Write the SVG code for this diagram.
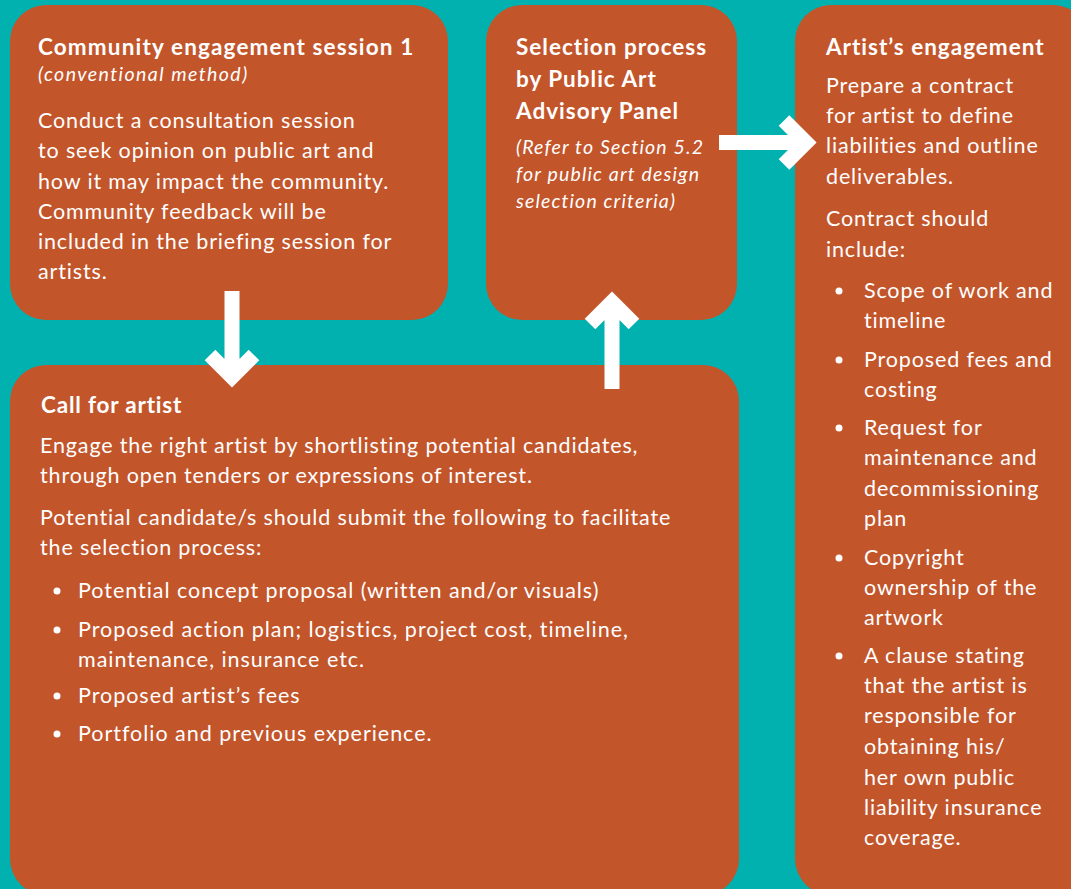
<svg xmlns="http://www.w3.org/2000/svg" width="1071" height="889" viewBox="0 0 1071 889">
<style>
.box{fill:#C3552B}
.t{font-family:Lato,"Liberation Sans",sans-serif;fill:#FFFFFF}
.h{font-size:22.5px;font-weight:bold;letter-spacing:1px}
.b{font-size:21.5px;letter-spacing:0.85px}
.bl{letter-spacing:0.97px}
.i{font-size:19.5px;font-style:italic;letter-spacing:1.15px}
.i1{letter-spacing:1.45px}
.dot{fill:#FFFFFF}
.arr{fill:none;stroke:#FFFFFF;stroke-width:15;stroke-linejoin:miter;stroke-linecap:butt}
</style>
<rect x="0" y="0" width="1071" height="889" fill="#00B1AF"/>
<g id="community">
<rect class="box" x="10" y="5" width="438" height="315" rx="36"/>
<text class="t h" x="38" y="55" style="letter-spacing:1.15px">Community engagement session 1</text>
<text class="t i i1" x="38" y="81">(conventional method)</text>
<text class="t b" x="38" y="128">Conduct a consultation session</text>
<text class="t b" x="38" y="158">to seek opinion on public art and</text>
<text class="t b" x="38" y="189">how it may impact the community.</text>
<text class="t b" x="38" y="219">Community feedback will be</text>
<text class="t b" x="38" y="249">included in the briefing session for</text>
<text class="t b" x="38" y="279">artists.</text>
</g>
<g id="selection">
<rect class="box" x="486" y="5" width="251" height="315" rx="36"/>
<text class="t h" x="516" y="55">Selection process</text>
<text class="t h" x="516" y="87">by Public Art</text>
<text class="t h" x="516" y="119">Advisory Panel</text>
<text class="t i" x="516" y="154">(Refer to Section 5.2</text>
<text class="t i" x="516" y="181">for public art design</text>
<text class="t i" x="516" y="208">selection criteria)</text>
</g>
<g id="artist-engagement">
<rect class="box" x="795" y="5" width="294" height="890" rx="36"/>
<text class="t h" x="826" y="55">Artist’s engagement</text>
<text class="t b" x="826" y="93">Prepare a contract</text>
<text class="t b" x="826" y="123">for artist to define</text>
<text class="t b" x="826" y="153">liabilities and outline</text>
<text class="t b" x="826" y="184">deliverables.</text>
<text class="t b" x="826" y="226">Contract should</text>
<text class="t b" x="826" y="257">include:</text>
<circle class="dot" cx="839" cy="291" r="3.5"/>
<text class="t b" x="864" y="298">Scope of work and</text>
<text class="t b" x="864" y="328">timeline</text>
<circle class="dot" cx="839" cy="360" r="3.5"/>
<text class="t b" x="864" y="367">Proposed fees and</text>
<text class="t b" x="864" y="397">costing</text>
<circle class="dot" cx="839" cy="428" r="3.5"/>
<text class="t b" x="864" y="435">Request for</text>
<text class="t b" x="864" y="465">maintenance and</text>
<text class="t b" x="864" y="496">decommissioning</text>
<text class="t b" x="864" y="526">plan</text>
<circle class="dot" cx="839" cy="558" r="3.5"/>
<text class="t b" x="864" y="565">Copyright</text>
<text class="t b" x="864" y="595">ownership of the</text>
<text class="t b" x="864" y="625">artwork</text>
<circle class="dot" cx="839" cy="656" r="3.5"/>
<text class="t b" x="864" y="663">A clause stating</text>
<text class="t b" x="864" y="693">that the artist is</text>
<text class="t b" x="864" y="723">responsible for</text>
<text class="t b" x="864" y="754">obtaining his/</text>
<text class="t b" x="864" y="785">her own public</text>
<text class="t b" x="864" y="815">liability insurance</text>
<text class="t b" x="864" y="845">coverage.</text>
</g>
<g id="call-for-artist">
<rect class="box" x="10" y="365" width="729" height="530" rx="36"/>
<text class="t h" x="41" y="413" style="letter-spacing:0.8px">Call for artist</text>
<text class="t b" x="40" y="453">Engage the right artist by shortlisting potential candidates,</text>
<text class="t b" x="40" y="483">through open tenders or expressions of interest.</text>
<text class="t b" x="40" y="525">Potential candidate/s should submit the following to facilitate</text>
<text class="t b" x="40" y="555">the selection process:</text>
<circle class="dot" cx="57" cy="591" r="3.5"/>
<text class="t b bl" x="78" y="598">Potential concept proposal (written and/or visuals)</text>
<circle class="dot" cx="57" cy="630" r="3.5"/>
<text class="t b bl" x="78" y="637">Proposed action plan; logistics, project cost, timeline,</text>
<text class="t b bl" x="78" y="667">maintenance, insurance etc.</text>
<circle class="dot" cx="57" cy="696" r="3.5"/>
<text class="t b bl" x="78" y="703">Proposed artist’s fees</text>
<circle class="dot" cx="57" cy="734" r="3.5"/>
<text class="t b bl" x="78" y="741">Portfolio and previous experience.</text>
</g>
<g id="connectors">
<path class="arr" d="M232,291 V378 M210,355 L232,377 L254,355"/>
<path class="arr" d="M612,389 V302 M590,324 L612,302 L634,324"/>
<path class="arr" d="M719,142.5 H806 M784,120.5 L806,142.5 L784,164.5"/>
</g>
</svg>
